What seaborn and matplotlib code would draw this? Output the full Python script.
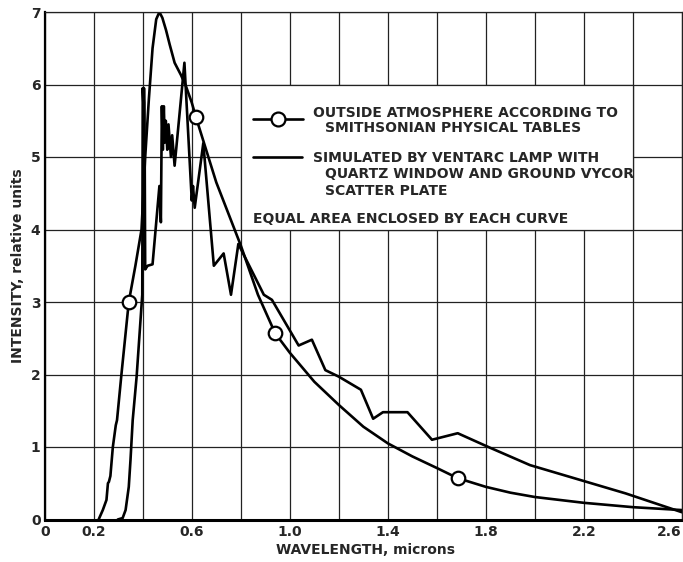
import numpy as np
import matplotlib
matplotlib.use("Agg")
import matplotlib.pyplot as plt
import seaborn as sns

# outside atmosphere (Smithsonian tables) - smooth curve
sun_x = [0.22, 0.237, 0.252, 0.258, 0.262, 0.268, 0.278, 0.29, 0.295, 0.313, 0.343,
         0.37, 0.395, 0.41, 0.425, 0.44, 0.455, 0.468, 0.48, 0.495, 0.51, 0.53,
         0.556, 0.577, 0.60, 0.617, 0.70, 0.80, 0.87, 0.94, 1.0, 1.1, 1.2, 1.3,
         1.4, 1.5, 1.6, 1.685, 1.8, 1.9, 2.0, 2.2, 2.4, 2.6]
sun_y = [0.0, 0.13, 0.27, 0.5, 0.52, 0.6, 1.0, 1.3, 1.37, 2.0, 3.0,
         3.5, 4.0, 5.0, 5.8, 6.5, 6.9, 7.0, 6.92, 6.75, 6.55, 6.3,
         6.13, 5.97, 5.75, 5.55, 4.65, 3.78, 3.1, 2.57, 2.3, 1.9, 1.58, 1.28,
         1.05, 0.87, 0.71, 0.57, 0.45, 0.37, 0.31, 0.23, 0.17, 0.13]
# circles on the smithsonian curve
mark_x = [0.343, 0.617, 0.94, 1.685]
mark_y = [3.0, 5.55, 2.57, 0.57]

# ventarc lamp simulation - jagged curve
lamp_x = [0.298, 0.318, 0.33, 0.343, 0.35, 0.359, 0.375, 0.398, 0.400, 0.403, 0.405,
          0.407, 0.41, 0.42, 0.44, 0.468, 0.474, 0.478, 0.482, 0.486, 0.49, 0.494,
          0.50, 0.505, 0.515, 0.52, 0.53, 0.57, 0.60, 0.605, 0.612, 0.647, 0.69,
          0.73, 0.76, 0.79, 0.894, 0.927, 1.036, 1.09, 1.145, 1.2, 1.29, 1.34,
          1.38, 1.48, 1.58, 1.685, 1.81, 1.98, 2.18, 2.37, 2.6]
lamp_y = [0.0, 0.02, 0.13, 0.45, 0.82, 1.37, 1.97, 3.1, 5.95, 5.7, 5.95,
          5.75, 3.45, 3.5, 3.52, 4.6, 4.1, 5.7, 5.1, 5.7, 5.2, 5.5,
          5.1, 5.45, 5.0, 5.3, 4.88, 6.3, 4.4, 4.6, 4.3, 5.19, 3.5,
          3.67, 3.1, 3.8, 3.1, 3.03, 2.4, 2.48, 2.06, 1.97, 1.79, 1.39,
          1.48, 1.48, 1.10, 1.19, 1.0, 0.75, 0.55, 0.36, 0.1]

x_ticks = [0, 0.2, 0.4, 0.6, 0.8, 1.0, 1.2, 1.4, 1.6, 1.8, 2.0, 2.2, 2.4, 2.6]
x_labels = ["0", "0.2", "", "0.6", "", "1.0", "", "1.4", "", "1.8", "", "2.2", "", "2.6"]
y_ticks = [0, 1, 2, 3, 4, 5, 6, 7]

legend_lines = [
    (313, 117, "OUTSIDE ATMOSPHERE ACCORDING TO"),
    (325, 132.5, "SMITHSONIAN PHYSICAL TABLES"),
    (313, 162, "SIMULATED BY VENTARC LAMP WITH"),
    (325, 178, "QUARTZ WINDOW AND GROUND VYCOR"),
    (325, 195, "SCATTER PLATE"),
    (253, 223, "EQUAL AREA ENCLOSED BY EACH CURVE"),
]

sns.set_style("white")
plt.rcParams["font.family"] = ["DejaVu Sans"]

W, H = 683, 562
L, R, T, B = 44.7, 682, 12, 519.5
fig = plt.figure(figsize=(W / 100, H / 100), dpi=100)
ax = fig.add_axes([L / W, (H - B) / H, (R - L) / W, (B - T) / H])


def ax_frac(px, py):
    return (px - L) / (R - L), (B - py) / (B - T)


# grid drawn by hand so the legend box can sit on top of it
for gx in x_ticks:
    ax.axvline(gx, color="#222222", lw=0.9, zorder=1)
for gy in y_ticks:
    ax.axhline(gy, color="#222222", lw=0.9, zorder=1)

# white legend box covering the grid inside 0.8..2.4 x 4..6
ax.fill_between([0.8, 2.4], 4, 6, color="white", lw=0, zorder=2)
ax.plot([0.8, 2.4, 2.4, 0.8, 0.8], [4, 4, 6, 6, 4], color="#222222", lw=0.9, zorder=2.1)

sns.lineplot(x=sun_x, y=sun_y, ax=ax, color="black", lw=1.9, sort=False,
             estimator=None, zorder=3)
sns.lineplot(x=lamp_x, y=lamp_y, ax=ax, color="black", lw=1.9, sort=False,
             estimator=None, zorder=3)
sns.scatterplot(x=mark_x, y=mark_y, ax=ax, s=95, facecolor="white",
                edgecolor="black", linewidth=1.6, zorder=4)

ax.set_xlim(0, 2.6)
ax.set_ylim(0, 7.0)
ax.set_xticks(x_ticks)
ax.set_xticklabels(x_labels, fontsize=10, fontweight="bold")
ax.set_yticks(y_ticks)
ax.set_yticklabels([str(v) for v in y_ticks], fontsize=10, fontweight="bold")
ax.get_xticklabels()[-1].set_ha("right")
ax.tick_params(length=0)
ax.tick_params(axis="x", pad=4)
ax.tick_params(axis="y", pad=3)
ax.grid(False)

for s in ["top", "right"]:
    ax.spines[s].set_linewidth(0.9)
    ax.spines[s].set_color("#222222")
ax.spines["bottom"].set_linewidth(2.2)
ax.spines["left"].set_linewidth(1.6)
ax.spines["bottom"].set_color("black")
ax.spines["left"].set_color("black")
for s in ax.spines.values():
    s.set_zorder(5)

# legend samples
x0, y0 = ax_frac(253, 119)
x1, _ = ax_frac(303, 119)
ax.plot([x0, x1], [y0, y0], color="black", lw=1.9, transform=ax.transAxes, zorder=5)
xm, _ = ax_frac(278, 119)
ax.plot([xm], [y0], marker="o", ms=10, mfc="white", mec="black", mew=1.6,
        transform=ax.transAxes, zorder=6)
x0, y0 = ax_frac(253, 157)
x1, _ = ax_frac(302, 157)
ax.plot([x0, x1], [y0, y0], color="black", lw=1.9, transform=ax.transAxes, zorder=5)

for px, py, txt in legend_lines:
    fx, fy = ax_frac(px, py)
    ax.text(fx, fy, txt, transform=ax.transAxes, ha="left", va="baseline",
            fontsize=10, fontweight="bold", zorder=6)

fig.text(18 / W, 1 - 266 / H, "INTENSITY, relative units", rotation=90,
         ha="center", va="center", fontsize=10, fontweight="bold")
fig.text(365 / W, 1 - 550 / H, "WAVELENGTH, microns", ha="center", va="center",
         fontsize=10, fontweight="bold")

fig.savefig("out.png", dpi=100)
